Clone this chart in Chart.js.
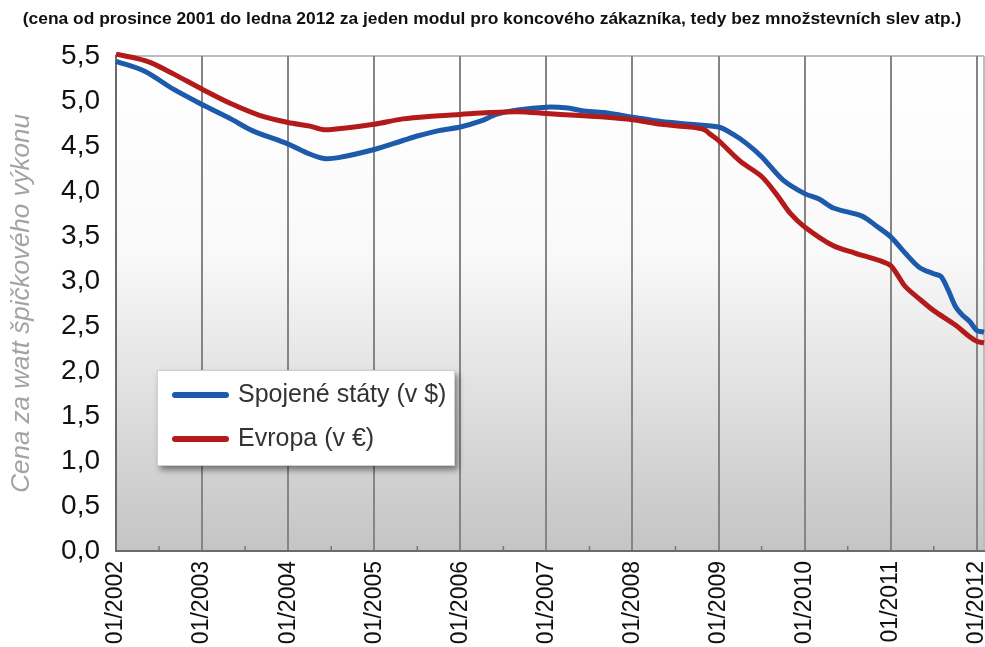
<!DOCTYPE html>
<html><head><meta charset="utf-8">
<script src="https://cdn.jsdelivr.net/npm/chart.js@4.4.1/dist/chart.umd.min.js"></script>
<style>html,body{margin:0;padding:0;background:#fff;} canvas{display:block;}</style>
</head><body>
<canvas id="c" width="985" height="647"></canvas>
<script>
const titleText = '(cena od prosince 2001 do ledna 2012 za jeden modul pro koncového zákazníka, tedy bez množstevních slev atp.)';
const yAxisTitle = 'Cena za watt špičkového výkonu';
const seriesNames = ['Spojené státy (v $)', 'Evropa (v €)'];
const tickMonths = [0, 12, 24, 36, 48, 60, 72, 84, 96, 108, 120];
const tickLabels = ['01/2002','01/2003','01/2004','01/2005','01/2006','01/2007','01/2008','01/2009','01/2010','01/2011','01/2012'];
const minorMonths = [6, 18, 30, 42, 54, 66, 78, 90, 102, 114];

const usMonths = [0,4,8,12,16,19,24,27,29,31,36,40,42,45,48,51,53,56,60,63,65,68,72,76,80,84,86,88,90,93,96,98,100,104,106,108,110,112,114,115,116,117,118,119,120,121];
const usPrices = [5.44,5.33,5.13,4.96,4.80,4.67,4.52,4.41,4.36,4.37,4.46,4.56,4.61,4.67,4.71,4.78,4.85,4.90,4.93,4.92,4.89,4.87,4.82,4.77,4.74,4.71,4.63,4.52,4.38,4.12,3.97,3.91,3.81,3.72,3.61,3.49,3.31,3.15,3.08,3.05,2.90,2.72,2.62,2.55,2.45,2.43];

const euMonths = [0,3,5,8,12,16,20,24,27,29,32,36,40,44,48,52,56,60,64,68,72,76,80,82,83,84,87,90,92,94,96,100,103,107,108,109,110,112,114,117,119,120,121];
const euPrices = [5.52,5.47,5.42,5.30,5.13,4.97,4.84,4.76,4.72,4.68,4.70,4.74,4.80,4.83,4.85,4.87,4.88,4.86,4.84,4.82,4.79,4.74,4.71,4.68,4.62,4.56,4.33,4.16,3.97,3.75,3.60,3.39,3.31,3.21,3.17,3.06,2.94,2.80,2.67,2.51,2.38,2.33,2.31];

const colors = ['#1d5aab', '#b31b1b'];

const toXY = (xs, ys) => xs.map((m, i) => ({x: m, y: ys[i]}));

const bgPlugin = {
  id: 'bg',
  beforeDraw(chart) {
    const {ctx, chartArea: a} = chart;
    const g = ctx.createLinearGradient(0, a.top, 0, a.bottom);
    g.addColorStop(0, '#ffffff');
    g.addColorStop(0.4, '#f9f9f9');
    g.addColorStop(1, '#c4c4c4');
    ctx.save();
    ctx.fillStyle = g;
    ctx.fillRect(a.left, a.top, a.right - a.left, a.bottom - a.top);
    ctx.strokeStyle = '#bdbdbd';
    ctx.lineWidth = 2;
    ctx.beginPath();
    ctx.moveTo(a.left, a.top); ctx.lineTo(a.right, a.top);
    ctx.moveTo(a.right, a.top); ctx.lineTo(a.right, a.bottom);
    ctx.stroke();
    ctx.restore();
  },
  beforeDatasetsDraw(chart) {
    const {ctx, chartArea: a, scales} = chart;
    ctx.save();
    ctx.strokeStyle = '#777';
    ctx.lineWidth = 1.5;
    minorMonths.forEach(m => {
      const x = scales.x.getPixelForValue(m);
      ctx.beginPath(); ctx.moveTo(x, a.bottom); ctx.lineTo(x, a.bottom - 5); ctx.stroke();
    });
    ctx.restore();
  }
};

const legendPlugin = {
  id: 'boxLegend',
  afterDraw(chart) {
    const {ctx} = chart;
    const x0 = 157, y0 = 370, w = 298, h = 96;
    ctx.save();
    ctx.shadowColor = 'rgba(0,0,0,0.45)';
    ctx.shadowBlur = 6;
    ctx.shadowOffsetX = 3;
    ctx.shadowOffsetY = 4;
    ctx.fillStyle = '#ffffff';
    ctx.fillRect(x0, y0, w, h);
    ctx.restore();
    ctx.save();
    ctx.strokeStyle = '#d0d0d0';
    ctx.lineWidth = 1;
    ctx.strokeRect(x0 + 0.5, y0 + 0.5, w - 1, h - 1);
    const rows = [395, 439];
    chart.data.datasets.forEach((ds, i) => {
      const y = rows[i];
      ctx.strokeStyle = ds.borderColor;
      ctx.lineWidth = 6;
      ctx.lineCap = 'round';
      ctx.beginPath(); ctx.moveTo(175, y); ctx.lineTo(226, y); ctx.stroke();
      ctx.fillStyle = '#333';
      ctx.font = '25px "Liberation Sans", Arial, sans-serif';
      ctx.textBaseline = 'middle';
      ctx.textAlign = 'left';
      ctx.fillText(ds.label, 238, y);
    });
    ctx.restore();
  }
};

new Chart(document.getElementById('c'), {
  type: 'line',
  data: {
    datasets: [
      {label: seriesNames[0], data: toXY(usMonths, usPrices), borderColor: colors[0], backgroundColor: colors[0], borderWidth: 5, pointRadius: 0, tension: 0.3, order: 1, clip: 6},
      {label: seriesNames[1], data: toXY(euMonths, euPrices), borderColor: colors[1], backgroundColor: colors[1], borderWidth: 5, pointRadius: 0, tension: 0.3, order: 0, clip: 6}
    ]
  },
  options: {
    responsive: false,
    animation: false,
    layout: {padding: {left: 0, right: 1, top: 0, bottom: 0}},
    plugins: {
      legend: {display: false},
      tooltip: {enabled: false},
      title: {
        display: true,
        text: titleText,
        color: '#111',
        font: {family: '"Liberation Sans", Arial, sans-serif', size: 17.4, weight: 'bold'},
        padding: {top: 9, bottom: 26}
      }
    },
    scales: {
      x: {
        type: 'linear',
        min: 0,
        max: 121,
        afterBuildTicks(scale) { scale.ticks = tickMonths.map(v => ({value: v})); },
        afterFit(scale) { scale.height = 96; scale.paddingLeft = 0; scale.paddingRight = 0; },
        ticks: {
          autoSkip: false,
          minRotation: 90,
          maxRotation: 90,
          padding: 10,
          color: '#111',
          font: {family: '"Liberation Sans", Arial, sans-serif', size: 23},
          callback: (v) => tickLabels[tickMonths.indexOf(v)]
        },
        grid: {color: '#858585', lineWidth: 2, drawTicks: false},
        border: {color: '#6a6a6a', width: 2}
      },
      y: {
        min: 0,
        max: 5.5,
        afterFit(scale) { scale.width = 116; },
        ticks: {
          stepSize: 0.5,
          padding: 16,
          color: '#111',
          font: {family: '"Liberation Sans", Arial, sans-serif', size: 28},
          callback: (v) => v.toFixed(1).replace('.', ',')
        },
        grid: {display: false, drawTicks: false},
        border: {color: '#6a6a6a', width: 2},
        title: {
          display: true,
          text: yAxisTitle,
          color: '#a3a3a3',
          font: {family: '"Liberation Sans", Arial, sans-serif', size: 26, style: 'italic'},
          padding: {top: 6, bottom: 0}
        }
      }
    }
  },
  plugins: [bgPlugin, legendPlugin]
});
</script>
</body></html>
